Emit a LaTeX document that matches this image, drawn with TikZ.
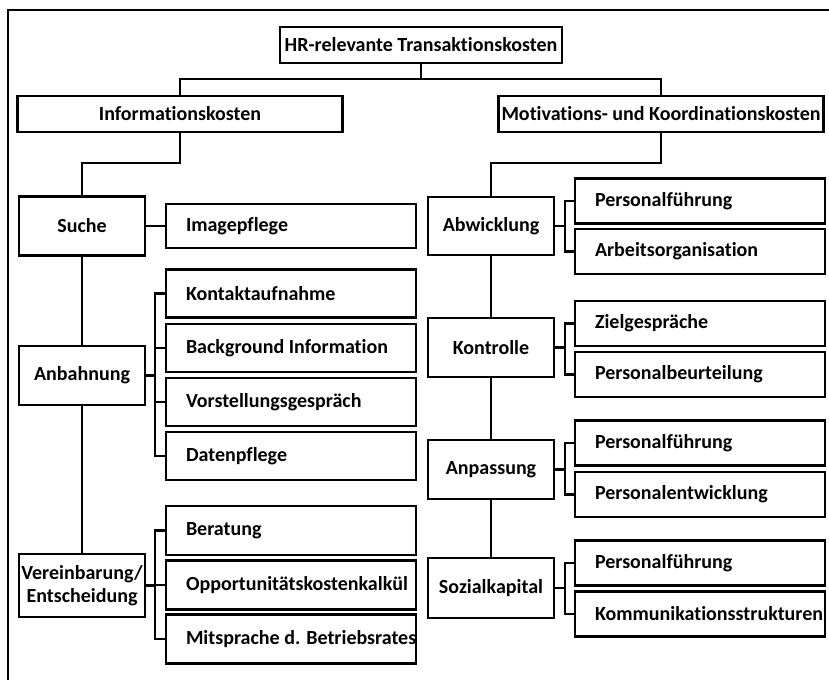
\documentclass[tikz,border=0pt]{standalone}
\usepackage{fontspec}
\setmainfont{Carlito}[Ligatures={NoCommon}]
\begin{document}
\begin{tikzpicture}[x=1pt,y=-1pt,line width=2.8pt,line join=miter,
  box/.style={draw,rectangle,inner sep=0pt,font=\bfseries\fontsize{20}{23}\selectfont,align=center},
  leaf/.style={draw,rectangle,inner sep=0pt,minimum width=250pt},
  lbl/.style={anchor=west,inner sep=0pt,font=\bfseries\fontsize{20}{23}\selectfont},
  mid/.style={box,minimum width=126pt,minimum height=59pt}]
\useasboundingbox (0,0) rectangle (829,680);
% frame
\draw (8,680) -- (8,10) -- (829,10);
% top levels
\node[box,minimum width=282pt,minimum height=36pt] (top) at (421,45) {HR-relevante Transaktionskosten};
\node[box,minimum width=325pt,minimum height=36pt] (info) at (180,114) {Informationskosten};
\node[box,minimum width=325pt,minimum height=36pt] (motiv) at (661,114) {Motivations- und Koordinationskosten};
\coordinate (j0) at (421,79);
\draw (top.south) -- (j0);
\draw (info.north) |- (j0) -| (motiv.north);
% left column
\node[mid] (suche) at (82,226) {Suche};
\node[mid] (anb) at (82,375.5) {Anbahnung};
\node[mid,minimum height=63pt] (ver) at (82,585.5) {Vereinbarung/\\Entscheidung};
\coordinate (j1) at (82,163);
\draw (info.south) |- (j1) -- (suche.north);
\draw (suche.south) -- (anb.north);
\draw (anb.south) -- (ver.north);
\node[leaf,minimum height=44pt] (img) at (291,226) {};
\node[lbl] (imgt) at ([xshift=20pt]img.west) {Imagepflege};
\draw (suche.east) -- (img.west);
% Anbahnung children
\node[leaf,minimum height=48pt] (k1) at (291,293.5) {};
\node[leaf,minimum height=48pt] (k2) at (291,348) {};
\node[leaf,minimum height=48pt] (k3) at (291,402) {};
\node[leaf,minimum height=48pt] (k4) at (291,456) {};
\node[lbl] (k1t) at ([xshift=20pt]k1.west) {Kontaktaufnahme};
\node[lbl] (k2t) at ([xshift=20pt]k2.west) {Background Information};
\node[lbl] (k3t) at ([xshift=20pt]k3.west) {Vorstellungsgespräch};
\node[lbl] (k4t) at ([xshift=20pt]k4.west) {Datenpflege};
\coordinate (c1) at (155,375.5);
\draw (anb.east) -- (c1);
\draw (k1.west) -| (c1);
\draw (k2.west) -| (c1);
\draw (k3.west) -| (c1);
\draw (k4.west) -| (c1);
% Vereinbarung children
\node[leaf,minimum height=49pt] (v1) at (291,530.5) {};
\node[leaf,minimum height=49pt] (v2) at (291,585) {};
\node[leaf,minimum height=49pt] (v3) at (291,639) {};
\node[lbl] (v1t) at ([xshift=20pt]v1.west) {Beratung};
\node[lbl] (v2t) at ([xshift=20pt]v2.west) {Opportunitätskostenkalkül};
\node[lbl] (v3t) at ([xshift=20pt]v3.west) {Mitsprache d. Betriebsrates};
\coordinate (c2) at (155,585.5);
\draw (ver.east) -- (c2);
\draw (v1.west) -| (c2);
\draw (v2.west) -| (c2);
\draw (v3.west) -| (c2);
% right column
\node[mid,minimum height=58pt] (abw) at (491,226) {Abwicklung};
\node[mid] (kon) at (491,347.5) {Kontrolle};
\node[mid] (anp) at (491,469.5) {Anpassung};
\node[mid,minimum height=60pt] (soz) at (491,588) {Sozialkapital};
\coordinate (j2) at (491,163);
\draw (motiv.south) |- (j2) -- (abw.north);
\draw (abw.south) -- (kon.north);
\draw (kon.south) -- (anp.north);
\draw (anp.south) -- (soz.north);
% Abwicklung children
\node[leaf,minimum height=45pt] (a1) at (700,201) {};
\node[leaf,minimum height=45pt] (a2) at (700,251.5) {};
\node[lbl] (a1t) at ([xshift=20pt]a1.west) {Personalführung};
\node[lbl] (a2t) at ([xshift=20pt]a2.west) {Arbeitsorganisation};
\coordinate (c3) at (565,226);
\draw (abw.east) -- (c3);
\draw (a1.west) -| (c3);
\draw (a2.west) -| (c3);
% Kontrolle children
\node[leaf,minimum height=45pt] (z1) at (700,323.5) {};
\node[leaf,minimum height=45pt] (z2) at (700,374.5) {};
\node[lbl] (z1t) at ([xshift=20pt]z1.west) {Zielgespräche};
\node[lbl] (z2t) at ([xshift=20pt]z2.west) {Personalbeurteilung};
\coordinate (c4) at (565,347.5);
\draw (kon.east) -- (c4);
\draw (z1.west) -| (c4);
\draw (z2.west) -| (c4);
% Anpassung children
\node[leaf,minimum height=45pt] (p1) at (700,443) {};
\node[leaf,minimum height=45pt] (p2) at (700,494.5) {};
\node[lbl] (p1t) at ([xshift=20pt]p1.west) {Personalführung};
\node[lbl] (p2t) at ([xshift=20pt]p2.west) {Personalentwicklung};
\coordinate (c5) at (565,469.5);
\draw (anp.east) -- (c5);
\draw (p1.west) -| (c5);
\draw (p2.west) -| (c5);
% Sozialkapital children
\node[leaf,minimum height=45pt] (s1) at (700,563) {};
\node[leaf,minimum height=45pt] (s2) at (700,614) {};
\node[lbl] (s1t) at ([xshift=20pt]s1.west) {Personalführung};
\node[lbl] (s2t) at ([xshift=20pt]s2.west) {Kommunikationsstrukturen};
\coordinate (c6) at (565,588);
\draw (soz.east) -- (c6);
\draw (s1.west) -| (c6);
\draw (s2.west) -| (c6);
\end{tikzpicture}
\end{document}
